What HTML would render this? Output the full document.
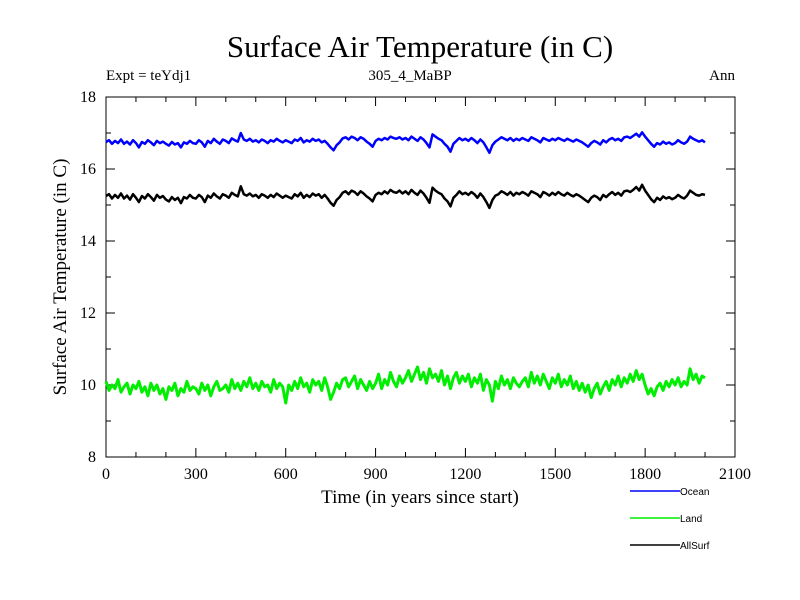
<!DOCTYPE html>
<html><head><meta charset="utf-8">
<style>
body{margin:0;background:#fff;}
svg{display:block;}
text{font-family:"Liberation Serif",serif;fill:#000;}
.leg{font-family:"Liberation Sans",sans-serif;font-size:10px;}
</style></head>
<body>
<svg id="chart" width="800" height="600">
<rect width="800" height="600" fill="#fff"/>
<text x="420" y="57" font-size="31" text-anchor="middle">Surface Air Temperature (in C)</text>
<text x="106" y="80" font-size="15">Expt = teYdj1</text>
<text x="410" y="80" font-size="15" text-anchor="middle">305_4_MaBP</text>
<text x="735" y="80" font-size="15" text-anchor="end">Ann</text>
<text transform="translate(66,277) rotate(-90)" font-size="19" text-anchor="middle">Surface Air Temperature (in C)</text>
<text x="420" y="503" font-size="19" text-anchor="middle">Time (in years since start)</text>
<g id="axes"></g>
<g id="series"></g>
<g>
<line x1="630" y1="491" x2="680" y2="491" stroke="#0000ff" stroke-width="1.5"/>
<text class="leg" x="680" y="495">Ocean</text>
<line x1="630" y1="518" x2="680" y2="518" stroke="#00ee00" stroke-width="1.5"/>
<text class="leg" x="680" y="522">Land</text>
<line x1="630" y1="545" x2="680" y2="545" stroke="#000" stroke-width="1.5"/>
<text class="leg" x="680" y="549">AllSurf</text>
</g>
</svg>
<script>
const xTicks=[0,300,600,900,1200,1500,1800,2100];
const yTicks=[8,10,12,14,16,18];
const yearStep=10;
const ocean=[16.75,16.8,16.7,16.78,16.72,16.82,16.7,16.76,16.68,16.8,
16.72,16.6,16.75,16.7,16.8,16.74,16.66,16.78,16.72,16.76,
16.7,16.65,16.75,16.68,16.72,16.6,16.74,16.7,16.78,16.72,
16.7,16.8,16.74,16.62,16.78,16.72,16.84,16.76,16.7,16.82,
16.78,16.72,16.85,16.8,16.76,17.0,16.82,16.78,16.84,16.76,
16.8,16.74,16.82,16.78,16.72,16.8,16.76,16.84,16.78,16.74,
16.8,16.76,16.72,16.82,16.78,16.86,16.74,16.8,16.76,16.84,
16.78,16.82,16.74,16.78,16.7,16.6,16.52,16.66,16.74,16.85,
16.88,16.82,16.9,16.86,16.8,16.88,16.84,16.76,16.7,16.62,
16.78,16.84,16.8,16.86,16.82,16.9,16.86,16.84,16.88,16.82,
16.86,16.8,16.9,16.84,16.78,16.88,16.82,16.72,16.6,16.96,
16.9,16.84,16.8,16.7,16.62,16.48,16.7,16.78,16.86,16.8,
16.84,16.78,16.86,16.8,16.72,16.82,16.74,16.6,16.45,16.66,
16.76,16.82,16.88,16.84,16.8,16.86,16.78,16.84,16.8,16.86,
16.82,16.78,16.88,16.84,16.8,16.74,16.86,16.82,16.78,16.84,
16.8,16.86,16.82,16.78,16.84,16.8,16.76,16.82,16.78,16.74,
16.68,16.62,16.72,16.78,16.74,16.68,16.8,16.74,16.82,16.86,
16.8,16.84,16.78,16.88,16.9,16.86,16.92,16.98,16.9,17.02,
16.9,16.8,16.7,16.62,16.72,16.68,16.76,16.7,16.74,16.68,
16.72,16.8,16.74,16.7,16.76,16.9,16.84,16.8,16.76,16.8,
16.74];
const land=[10.1,9.85,10.0,9.9,10.15,9.8,9.95,10.05,9.75,10.0,
9.9,10.1,9.8,9.95,9.7,10.05,9.85,10.0,9.75,9.9,
9.6,9.95,9.85,10.05,9.7,9.9,9.8,10.1,9.85,9.95,
9.9,9.75,10.05,9.85,10.0,9.7,9.95,10.1,9.85,9.9,
10.0,9.8,10.15,9.9,10.05,9.85,10.1,9.95,10.2,9.9,
10.05,9.85,10.1,9.95,10.0,9.8,10.15,9.9,10.05,9.95,
9.5,10.0,9.85,10.1,9.9,10.2,9.95,10.05,9.8,10.15,
10.0,10.1,9.85,10.2,9.95,9.6,9.8,10.05,9.9,10.15,
10.2,9.95,10.1,10.25,9.9,10.15,10.0,9.85,10.1,9.9,
10.05,10.3,9.9,10.15,10.0,10.35,10.1,9.95,10.25,10.05,
10.2,10.4,10.1,10.3,10.5,10.15,10.35,10.05,10.45,10.2,
10.3,10.1,10.4,10.0,10.25,9.9,10.2,10.35,10.05,10.25,
10.1,10.3,9.95,10.2,10.05,10.3,9.85,10.15,10.0,9.55,
10.1,9.9,10.25,10.0,10.15,9.9,10.2,10.05,9.95,10.1,
10.2,9.95,10.35,10.05,10.25,10.0,10.3,10.1,9.9,10.2,
10.05,10.3,9.95,10.15,10.0,10.25,9.9,10.1,9.85,10.05,
9.8,10.0,9.65,9.9,10.05,9.75,9.95,10.1,9.85,10.15,
10.0,10.25,9.95,10.2,10.05,10.3,10.1,10.4,10.15,10.3,
10.0,9.75,9.9,9.7,9.95,10.05,9.85,10.1,9.95,10.15,
10.0,10.2,9.95,10.1,10.0,10.45,10.15,10.3,10.05,10.25,
10.2];
const allsurf=[15.25,15.3,15.18,15.28,15.2,15.32,15.18,15.26,15.15,15.3,
15.2,15.08,15.25,15.18,15.3,15.22,15.12,15.28,15.2,15.25,
15.15,15.1,15.22,15.14,15.2,15.05,15.22,15.18,15.28,15.2,
15.18,15.28,15.22,15.08,15.26,15.2,15.32,15.24,15.18,15.3,
15.26,15.2,15.34,15.28,15.24,15.52,15.3,15.26,15.32,15.24,
15.28,15.2,15.3,15.26,15.2,15.28,15.22,15.32,15.26,15.2,
15.26,15.22,15.18,15.3,15.24,15.34,15.2,15.28,15.22,15.32,
15.26,15.3,15.2,15.28,15.18,15.06,14.98,15.14,15.22,15.34,
15.38,15.3,15.4,15.36,15.28,15.38,15.32,15.24,15.18,15.1,
15.28,15.34,15.3,15.38,15.32,15.42,15.36,15.34,15.4,15.32,
15.38,15.3,15.42,15.34,15.28,15.4,15.32,15.2,15.06,15.48,
15.4,15.34,15.3,15.18,15.1,14.96,15.2,15.28,15.38,15.3,
15.34,15.28,15.36,15.3,15.2,15.32,15.22,15.08,14.92,15.14,
15.26,15.3,15.38,15.34,15.28,15.36,15.26,15.34,15.3,15.36,
15.32,15.26,15.38,15.34,15.3,15.22,15.36,15.32,15.26,15.34,
15.28,15.36,15.3,15.26,15.34,15.28,15.24,15.3,15.26,15.2,
15.14,15.08,15.2,15.26,15.22,15.14,15.28,15.22,15.3,15.36,
15.28,15.34,15.26,15.38,15.4,15.36,15.42,15.5,15.4,15.56,
15.4,15.28,15.16,15.08,15.2,15.14,15.24,15.18,15.22,15.16,
15.2,15.28,15.22,15.18,15.26,15.4,15.34,15.28,15.26,15.3,
15.28];
const L=106,R=735,T=97,B=457,X0=0,X1=2100,Y0=8,Y1=18;
const NS="http://www.w3.org/2000/svg";
function sx(v){return L+(v-X0)/(X1-X0)*(R-L);}
function sy(v){return B-(v-Y0)/(Y1-Y0)*(B-T);}
function mk(tag,attrs,parent){const e=document.createElementNS(NS,tag);for(const k in attrs)e.setAttribute(k,attrs[k]);parent.appendChild(e);return e;}
const axes=document.getElementById('axes');
const frame=mk('rect',{x:L,y:T,width:R-L,height:B-T,fill:'none',stroke:'#000','stroke-width':1},axes);


for(let v=X0;v<=X1;v+=100){
  const major=xTicks.includes(v);const len=major?9:5;const x=sx(v);
  const t=mk('line',{x1:x,y1:B,x2:x,y2:B-len,stroke:'#000'},axes);
  
  
  const t2=mk('line',{x1:x,y1:T,x2:x,y2:T+len,stroke:'#000'},axes);
  
  
}
xTicks.forEach(v=>{
  const tx=mk('text',{x:sx(v),y:B+22,'font-size':16,'text-anchor':'middle'},axes);
  tx.textContent=v;
  
  
});
for(let v=Y0;v<=Y1;v+=1){
  const major=yTicks.includes(v);const len=major?9:5;const y=sy(v);
  const t=mk('line',{x1:L,y1:y,x2:L+len,y2:y,stroke:'#000'},axes);
  
  
  const t2=mk('line',{x1:R,y1:y,x2:R-len,y2:y,stroke:'#000'},axes);
  
  
}
yTicks.forEach(v=>{
  const tx=mk('text',{x:L-10,y:sy(v)+5,'font-size':16,'text-anchor':'end'},axes);
  tx.textContent=v;
  
  
});
const sg=document.getElementById('series');
function line(arr,color,name,w){
  const pts=arr.map((v,i)=>sx(i*yearStep).toFixed(1)+','+sy(v).toFixed(1)).join(' ');
  const p=mk('polyline',{points:pts,fill:'none',stroke:color,'stroke-width':w,'stroke-linejoin':'round'},sg);
  
  
}
line(land,'#00ee00','land-series',3);
line(allsurf,'#000000','allsurf-series',2.5);
line(ocean,'#0000ff','ocean-series',2.5);
</script>
</body></html>
